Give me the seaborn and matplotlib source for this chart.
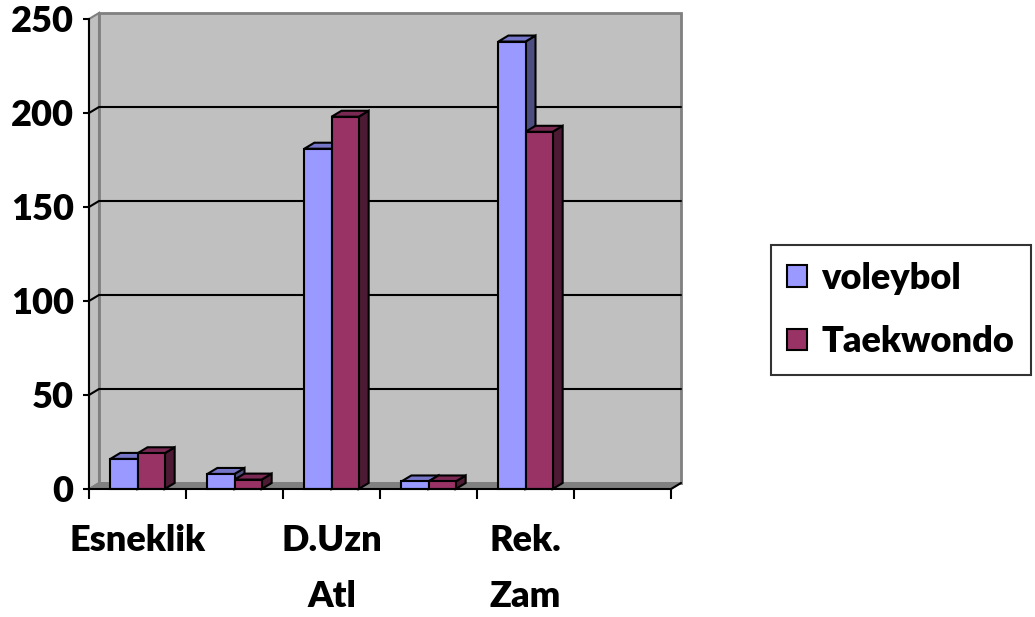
import numpy as np
import pandas as pd
import matplotlib
matplotlib.use("Agg")
import matplotlib.pyplot as plt
import matplotlib.colors as mcolors
from matplotlib.patches import Polygon, Rectangle
import seaborn as sns

# ---- data ----
categories = ["Esneklik", "Kategori 2", "D.Uzn Atl", "Kategori 4", "Rek. Zam", "Kategori 6"]
tick_labels = ["Esneklik", "", "D.Uzn\nAtl", "", "Rek.\nZam", ""]
series = ["voleybol", "Taekwondo"]
voleybol = [16, 8, 181, 4, 238, np.nan]
taekwondo = [19, 5, 198, 4, 190, np.nan]
y_ticks = [0, 50, 100, 150, 200, 250]

sns.set_theme(style="white")
plt.rcParams['font.family'] = ['Lato', 'DejaVu Sans']
plt.rcParams['font.weight'] = 'heavy'
plt.rcParams['text.color'] = 'black'
plt.rcParams['xtick.color'] = 'black'
plt.rcParams['ytick.color'] = 'black'
plt.rcParams['xtick.labelcolor'] = 'black'
plt.rcParams['ytick.labelcolor'] = 'black'

FS = 26
WT = "heavy"

df = pd.DataFrame({
    "kategori": categories * 2,
    "seri": [series[0]] * len(categories) + [series[1]] * len(categories),
    "deger": voleybol + taekwondo,
}).dropna()

front_col = {"voleybol": "#9999FF", "Taekwondo": "#993366"}
shade = {  # front -> (top, side)
    "#9999ff": ("#7676C8", "#4D4D80"),
    "#993366": ("#7A2952", "#4D1A33"),
}

W, H = 1035, 617
fig = plt.figure(figsize=(W / 100, H / 100), dpi=100)
ax = fig.add_axes([89 / W, 128 / H, 582 / W, 470 / H])

sns.barplot(data=df, x="kategori", y="deger", hue="seri", order=categories,
            hue_order=series, palette=front_col, width=0.56, saturation=1,
            edgecolor="black", linewidth=1.5, ax=ax)

ax.set_xlim(-0.5, 5.5)
ax.set_ylim(0, 250)
ax.patch.set_visible(False)

dxd = 10 / 97.0      # depth offset in category units
dyd = 6 / 1.88       # depth offset in value units

# walls and floor
ax.add_patch(Rectangle((-0.5 + dxd, dyd), 6, 250, facecolor="#C0C0C0",
                       edgecolor="#808080", lw=2, zorder=0.1, clip_on=False))
ax.add_patch(Polygon([(-0.5, 0), (-0.5 + dxd, dyd), (-0.5 + dxd, 250 + dyd), (-0.5, 250)],
                     closed=True, facecolor="#C0C0C0", edgecolor="#808080", lw=1.5,
                     zorder=0.2, clip_on=False))
ax.add_patch(Polygon([(-0.5, 0), (5.5, 0), (5.5 + dxd, dyd), (-0.5 + dxd, dyd)],
                     closed=True, facecolor="#808080", edgecolor="#808080", lw=1,
                     zorder=0.3, clip_on=False))
for v in y_ticks[1:-1]:
    ax.plot([-0.5, -0.5 + dxd, 5.5 + dxd], [v, v + dyd, v + dyd], color="black",
            lw=1.5, zorder=0.5, clip_on=False)
ax.plot([5.5, 5.5 + dxd], [0, dyd], color="black", lw=1.5, zorder=0.5, clip_on=False)

# 3D faces of bars
bars = [p for p in ax.patches if isinstance(p, Rectangle) and p.get_zorder() > 0.4
        and np.isfinite(p.get_height()) and p.get_height() > 0]
bars.sort(key=lambda p: p.get_x())
for i, p in enumerate(bars):
    x0, w, h = p.get_x(), p.get_width(), p.get_height()
    x1 = x0 + w
    fc = mcolors.to_hex(p.get_facecolor()).lower()
    top_c, side_c = shade.get(fc, ("#777777", "#444444"))
    base = 2 + 3 * i
    side = Polygon([(x1, 0), (x1 + dxd, dyd), (x1 + dxd, h + dyd), (x1, h)], closed=True,
                   facecolor=side_c, edgecolor="black", lw=1.5, zorder=base,
                   clip_on=False, joinstyle="miter")
    top = Polygon([(x0, h), (x1, h), (x1 + dxd, h + dyd), (x0 + dxd, h + dyd)], closed=True,
                  facecolor=top_c, edgecolor="black", lw=1.5, zorder=base,
                  clip_on=False, joinstyle="miter")
    ax.add_patch(side)
    ax.add_patch(top)
    p.set_zorder(base + 1)
    p.set_clip_on(False)

# axes styling
for s in ["top", "right"]:
    ax.spines[s].set_visible(False)
for s in ["left", "bottom"]:
    ax.spines[s].set_color("black")
    ax.spines[s].set_linewidth(1.5)
    ax.spines[s].set_zorder(50)

ax.set_yticks(y_ticks)
ax.set_yticklabels([str(t) for t in y_ticks], fontsize=FS, fontweight=WT, color="black")
ax.tick_params(axis="y", length=4, width=1.5, color="black", direction="out", pad=7, left=True)

ax.set_xticks(range(len(categories)))
ax.set_xticklabels(tick_labels, fontsize=FS, fontweight=WT, color="black")
ax.set_xticks(np.arange(-0.5, len(categories), 1), minor=True)
ax.tick_params(axis="x", which="major", length=0, pad=25)
ax.tick_params(axis="x", which="minor", length=7, width=1.5, color="black",
               direction="out", bottom=True)
for lab in ax.get_xticklabels():
    lab.set_linespacing(1.87)
ax.set_xlabel("")
ax.set_ylabel("")

handles, labels = ax.get_legend_handles_labels()
if ax.get_legend() is not None:
    ax.get_legend().remove()
for hnd in handles:
    hnd.set_edgecolor("black")
    hnd.set_linewidth(1.5)
leg = fig.legend(handles, labels, loc="center left",
                 bbox_to_anchor=(771 / W, 1 - 310 / H), frameon=True, fancybox=False,
                 edgecolor="black", handlelength=0.55, handleheight=0.55,
                 handletextpad=0.4, borderpad=0.45, labelspacing=0.85,
                 borderaxespad=0, prop={"weight": WT, "size": FS})
leg.get_frame().set_linewidth(1.5)
for t in leg.get_texts():
    t.set_color("black")

fig.savefig("out.png", dpi=100)
